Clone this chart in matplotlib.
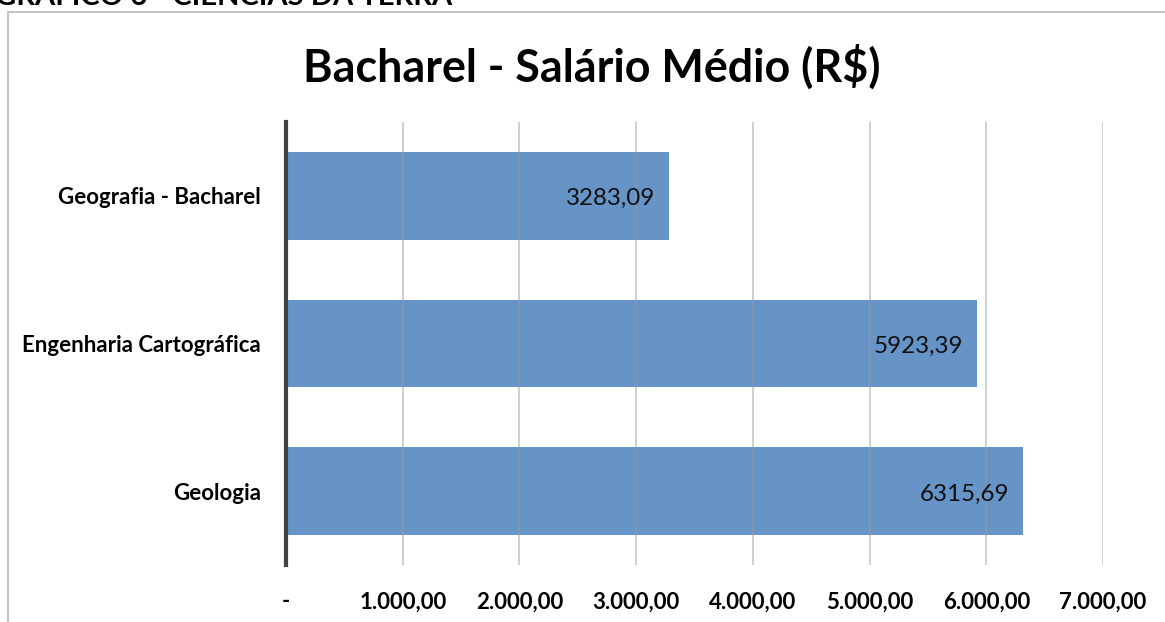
import matplotlib
matplotlib.use("Agg")
import matplotlib.pyplot as plt
from matplotlib.patches import Rectangle

categories = ["Geografia - Bacharel", "Engenharia Cartográfica", "Geologia"]
values = [3283.09, 5923.39, 6315.69]
value_labels = ["3283,09", "5923,39", "6315,69"]
xticks = [0, 1000, 2000, 3000, 4000, 5000, 6000, 7000]
xtick_labels = ["-", "1.000,00", "2.000,00", "3.000,00", "4.000,00", "5.000,00", "6.000,00", "7.000,00"]
title = "Bacharel - Salário Médio (R$)"
header = "GRÁFICO 6 - CIÊNCIAS DA TERRA"

plt.rcParams['font.family'] = ['Lato', 'DejaVu Sans']

W, H = 1165, 622
fig = plt.figure(figsize=(W / 100, H / 100), dpi=100)

# outer chart frame
fig.patches.append(Rectangle((7.5 / W, -0.1), 1.2, 1 - 11.5 / H + 0.1, transform=fig.transFigure,
                             fill=False, edgecolor="#c4c4c4", linewidth=1.5))
fig.text(-0.004, 1 - 5 / H, header, fontsize=21, fontweight="bold", ha="left", va="baseline")

ax = fig.add_axes([286 / W, 1 - 565 / H, (1103 - 286) / W, (565 - 122) / H])
ypos = list(range(len(categories)))
ax.barh(ypos, values, height=0.595, color="#6794c7", zorder=2)
ax.set_xlim(0, 7000)
ax.set_ylim(len(categories) - 0.5, -0.5)
ax.set_yticks(ypos)
ax.set_yticklabels(categories, fontsize=16, fontweight="bold")
ax.tick_params(axis="y", length=0, pad=18)
ax.set_xticks(xticks)
ax.set_xticklabels(xtick_labels, fontsize=16, fontweight="bold")
ax.tick_params(axis="x", length=0, pad=19)
ax.grid(axis="x", color="#9a9a9a", alpha=0.55, linewidth=1.2, zorder=3)
ax.set_axisbelow(False)
for s in ["top", "right", "bottom"]:
    ax.spines[s].set_visible(False)
ax.spines["left"].set_color("#404040")
ax.spines["left"].set_linewidth(3)
ax.spines["left"].set_zorder(4)

for y, v, lab in zip(ypos, values, value_labels):
    ax.annotate(lab, (v, y), xytext=(-14, -3), textcoords="offset pixels",
                ha="right", va="center", fontsize=17.4, color="#111111", zorder=5)

fig.text(592 / W, 1 - 67 / H, title, fontsize=32.3, fontweight="bold", ha="center", va="center")

fig.savefig("out.png", dpi=100)
